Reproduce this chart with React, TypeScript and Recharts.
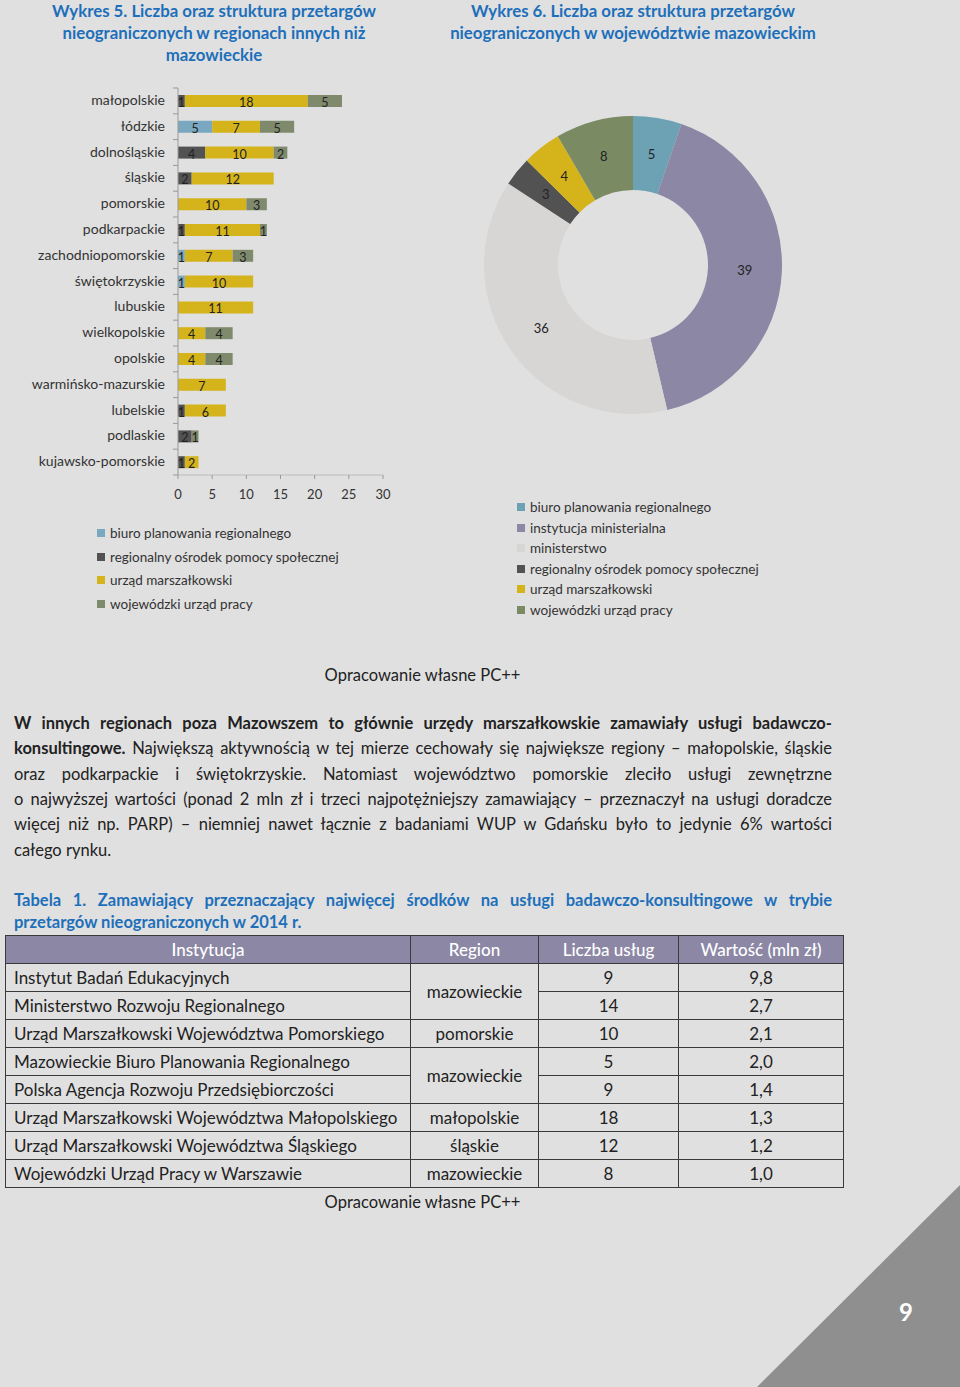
import { BarChart, Bar, XAxis, YAxis, LabelList, PieChart, Pie, Cell } from "recharts";

const regions = [
  "małopolskie",
  "łódzkie",
  "dolnośląskie",
  "śląskie",
  "pomorskie",
  "podkarpackie",
  "zachodniopomorskie",
  "świętokrzyskie",
  "lubuskie",
  "wielkopolskie",
  "opolskie",
  "warmińsko-mazurskie",
  "lubelskie",
  "podlaskie",
  "kujawsko-pomorskie",
];
const biuroValues = [0, 5, 0, 0, 0, 0, 1, 1, 0, 0, 0, 0, 0, 0, 0];
const ropsValues = [1, 0, 4, 2, 0, 1, 0, 0, 0, 0, 0, 0, 1, 2, 1];
const umValues = [18, 7, 10, 12, 10, 11, 7, 10, 11, 4, 4, 7, 6, 0, 2];
const wupValues = [5, 5, 2, 0, 3, 1, 3, 0, 0, 4, 4, 0, 0, 1, 0];
const xTicks = [0, 5, 10, 15, 20, 25, 30];

const barSeries = [
  { key: "biuro", name: "biuro planowania regionalnego", color: "#79a8c0" },
  { key: "rops", name: "regionalny ośrodek pomocy społecznej", color: "#525252" },
  { key: "um", name: "urząd marszałkowski", color: "#d4b31b" },
  { key: "wup", name: "wojewódzki urząd pracy", color: "#7f8a6c" },
];

const pieNames = [
  "biuro planowania regionalnego",
  "instytucja ministerialna",
  "ministerstwo",
  "regionalny ośrodek pomocy społecznej",
  "urząd marszałkowski",
  "wojewódzki urząd pracy",
];
const pieValues = [5, 39, 36, 3, 4, 8];
const pieColors = ["#6da2b5", "#8b87a5", "#d8d6d4", "#525252", "#d4b31b", "#7a8a62"];

const tableRows = [
  ["Instytut Badań Edukacyjnych", "mazowieckie", "9", "9,8"],
  ["Ministerstwo Rozwoju Regionalnego", "", "14", "2,7"],
  ["Urząd Marszałkowski Województwa Pomorskiego", "pomorskie", "10", "2,1"],
  ["Mazowieckie Biuro Planowania Regionalnego", "mazowieckie", "5", "2,0"],
  ["Polska Agencja Rozwoju Przedsiębiorczości", "", "9", "1,4"],
  ["Urząd Marszałkowski Województwa Małopolskiego", "małopolskie", "18", "1,3"],
  ["Urząd Marszałkowski Województwa Śląskiego", "śląskie", "12", "1,2"],
  ["Wojewódzki Urząd Pracy w Warszawie", "mazowieckie", "8", "1,0"],
];
const regionSpans = [2, 0, 1, 2, 0, 1, 1, 1];

const barData = regions.map((region, i) => ({
  region,
  biuro: biuroValues[i],
  rops: ropsValues[i],
  um: umValues[i],
  wup: wupValues[i],
}));
const pieData = pieNames.map((name, i) => ({ name, value: pieValues[i] }));

const FONT = "Lato, 'Open Sans', sans-serif";
const BLUE = "#1d6fba";
const TEXT = "#222";

function RegionTick(props: any) {
  const { x, y, payload, index } = props;
  const band = 25.8;
  return (
    <g>
      <text x={x} y={y} dy={4} textAnchor="end" fontSize={14} fill="#333" fontFamily={FONT}>
        {payload.value}
      </text>
      <line x1={x + 8} x2={x + 13} y1={y - band / 2} y2={y - band / 2} stroke="#999" />
      {index === regions.length - 1 && (
        <line x1={x + 8} x2={x + 13} y1={y + band / 2} y2={y + band / 2} stroke="#999" />
      )}
    </g>
  );
}

function SegmentLabel(props: any) {
  const { x, y, width, height, value } = props;
  if (!value) return null;
  return (
    <text
      x={x + width / 2}
      y={y + height / 2 + 6}
      textAnchor="middle"
      fontSize={12.5}
      fill={TEXT}
      fontFamily={FONT}
    >
      {value}
    </text>
  );
}

function PieLabel(props: any) {
  const { cx, cy, midAngle, innerRadius, outerRadius, value } = props;
  const r = (innerRadius + outerRadius) / 2;
  const a = (-midAngle * Math.PI) / 180;
  return (
    <text
      x={cx + r * Math.cos(a)}
      y={cy + r * Math.sin(a)}
      dy={4}
      textAnchor="middle"
      fontSize={13}
      fill={TEXT}
      fontFamily={FONT}
    >
      {value}
    </text>
  );
}

function LegendList({ items, left, top, gap }: { items: { name: string; color: string }[]; left: number; top: number; gap: number }) {
  return (
    <div style={{ position: "absolute", left, top, fontFamily: FONT, fontSize: 13.5, color: "#333" }}>
      {items.map((it) => (
        <div key={it.name} style={{ height: gap, display: "flex", alignItems: "center" }}>
          <span style={{ width: 8, height: 8, background: it.color, marginRight: 5, display: "inline-block" }} />
          {it.name}
        </div>
      ))}
    </div>
  );
}

function JLine({ children, top, last }: { children: any; top: number; last?: boolean }) {
  return (
    <div
      style={{
        position: "absolute",
        left: 14,
        width: 818,
        top,
        height: 25,
        lineHeight: "25px",
        textAlign: last ? "left" : "justify",
        textAlignLast: last ? "left" : "justify",
        whiteSpace: "nowrap",
      }}
    >
      {children}
    </div>
  );
}

export default function App() {
  const cell: any = { border: "1px solid #3a3a3a", padding: 0, height: 27 };
  const titleStyle: any = {
    position: "absolute",
    width: 400,
    top: 0,
    textAlign: "center",
    color: BLUE,
    fontWeight: 700,
    fontSize: 16.8,
    lineHeight: "22px",
  };
  return (
    <div
      style={{
        position: "absolute",
        left: 0,
        top: 0,
        width: 960,
        height: 1387,
        background: "#e0e0e0",
        overflow: "hidden",
        fontFamily: FONT,
        color: TEXT,
      }}
    >
      {/* titles */}
      <div style={{ ...titleStyle, left: 14 }}>
        Wykres 5. Liczba oraz struktura przetargów
        <br />
        nieograniczonych w regionach innych niż
        <br />
        mazowieckie
      </div>
      <div style={{ ...titleStyle, left: 433 }}>
        Wykres 6. Liczba oraz struktura przetargów
        <br />
        nieograniczonych w województwie mazowieckim
      </div>

      {/* bar chart */}
      <div style={{ position: "absolute", left: 0, top: 0 }}>
        <BarChart
          width={400}
          height={510}
          data={barData}
          layout="vertical"
          margin={{ top: 88, right: 17, left: 0, bottom: 0 }}
          barSize={12}
        >
          <XAxis
            type="number"
            domain={[0, 30]}
            ticks={xTicks}
            height={35}
            axisLine={{ stroke: "#bbb" }}
            tickLine={{ stroke: "#999" }}
            tickSize={4}
            tickMargin={11}
            tick={{ fontSize: 13, fill: "#333", fontFamily: FONT }}
          />
          <YAxis
            type="category"
            dataKey="region"
            width={178}
            axisLine={{ stroke: "#999" }}
            tickLine={false}
            tickSize={0}
            tickMargin={13}
            tick={<RegionTick />}
            interval={0}
          />
          {barSeries.map((s) => (
            <Bar key={s.key} dataKey={s.key} stackId="a" fill={s.color} isAnimationActive={false}>
              <LabelList dataKey={s.key} content={<SegmentLabel />} />
            </Bar>
          ))}
        </BarChart>
      </div>
      <LegendList items={barSeries} left={97} top={521} gap={23.7} />

      {/* donut */}
      <div style={{ position: "absolute", left: 473, top: 105 }}>
        <PieChart width={320} height={320} margin={{ top: 0, right: 0, left: 0, bottom: 0 }}>
          <Pie
            data={pieData}
            dataKey="value"
            cx={160}
            cy={160}
            innerRadius={75}
            outerRadius={149}
            startAngle={90}
            endAngle={-270}
            stroke="none"
            label={<PieLabel />}
            labelLine={false}
            isAnimationActive={false}
          >
            {pieData.map((d, i) => (
              <Cell key={d.name} fill={pieColors[i]} />
            ))}
          </Pie>
        </PieChart>
      </div>
      <LegendList
        items={pieNames.map((n, i) => ({ name: n, color: pieColors[i] }))}
        left={517}
        top={497}
        gap={20.5}
      />

      <div style={{ position: "absolute", left: 0, width: 845, top: 665, textAlign: "center", fontSize: 16.5 }}>
        Opracowanie własne PC++
      </div>

      {/* paragraph */}
      <div style={{ fontSize: 16.5 }}>
        <JLine top={711}>
          <b>W innych regionach poza Mazowszem to głównie urzędy marszałkowskie zamawiały usługi badawczo-</b>
        </JLine>
        <JLine top={736}>
          <b>konsultingowe.</b> Największą aktywnością w tej mierze cechowały się największe regiony – małopolskie, śląskie
        </JLine>
        <JLine top={762}>
          oraz podkarpackie i świętokrzyskie. Natomiast województwo pomorskie zleciło usługi zewnętrzne
        </JLine>
        <JLine top={787}>
          o najwyższej wartości (ponad 2 mln zł i trzeci najpotężniejszy zamawiający – przeznaczył na usługi doradcze
        </JLine>
        <JLine top={812}>
          więcej niż np. PARP) – niemniej nawet łącznie z badaniami WUP w Gdańsku było to jedynie 6% wartości
        </JLine>
        <JLine top={838} last>
          całego rynku.
        </JLine>
      </div>

      {/* table title */}
      <div style={{ fontSize: 16.5, fontWeight: 700, color: BLUE }}>
        <JLine top={888}>
          Tabela 1. Zamawiający przeznaczający najwięcej środków na usługi badawczo-konsultingowe w trybie
        </JLine>
        <JLine top={910} last>
          przetargów nieograniczonych w 2014 r.
        </JLine>
      </div>

      {/* table */}
      <table
        style={{
          position: "absolute",
          left: 5,
          top: 935,
          width: 838,
          borderCollapse: "collapse",
          fontSize: 17,
          tableLayout: "fixed",
        }}
      >
        <colgroup>
          <col style={{ width: 405 }} />
          <col style={{ width: 128 }} />
          <col style={{ width: 140 }} />
          <col style={{ width: 165 }} />
        </colgroup>
        <thead>
          <tr style={{ background: "#8b87a5", color: "#fff" }}>
            {["Instytucja", "Region", "Liczba usług", "Wartość (mln zł)"].map((h) => (
              <th key={h} style={{ ...cell, fontWeight: 500, textAlign: "center" }}>
                {h}
              </th>
            ))}
          </tr>
        </thead>
        <tbody>
          {tableRows.map((r, i) => (
            <tr key={r[0]}>
              <td style={{ ...cell, paddingLeft: 8 }}>{r[0]}</td>
              {regionSpans[i] > 0 && (
                <td rowSpan={regionSpans[i]} style={{ ...cell, textAlign: "center" }}>
                  {r[1]}
                </td>
              )}
              <td style={{ ...cell, textAlign: "center" }}>{r[2]}</td>
              <td style={{ ...cell, textAlign: "center" }}>{r[3]}</td>
            </tr>
          ))}
        </tbody>
      </table>

      <div style={{ position: "absolute", left: 0, width: 845, top: 1192, textAlign: "center", fontSize: 16.5 }}>
        Opracowanie własne PC++
      </div>

      {/* page number */}
      <svg style={{ position: "absolute", left: 0, top: 0 }} width={960} height={1387}>
        <polygon points="757,1387 960,1185 960,1387" fill="#8f8f8f" />
        <text x={906} y={1321} textAnchor="middle" fontSize={24} fontWeight={700} fill="#fff" fontFamily={FONT}>
          9
        </text>
      </svg>
    </div>
  );
}
